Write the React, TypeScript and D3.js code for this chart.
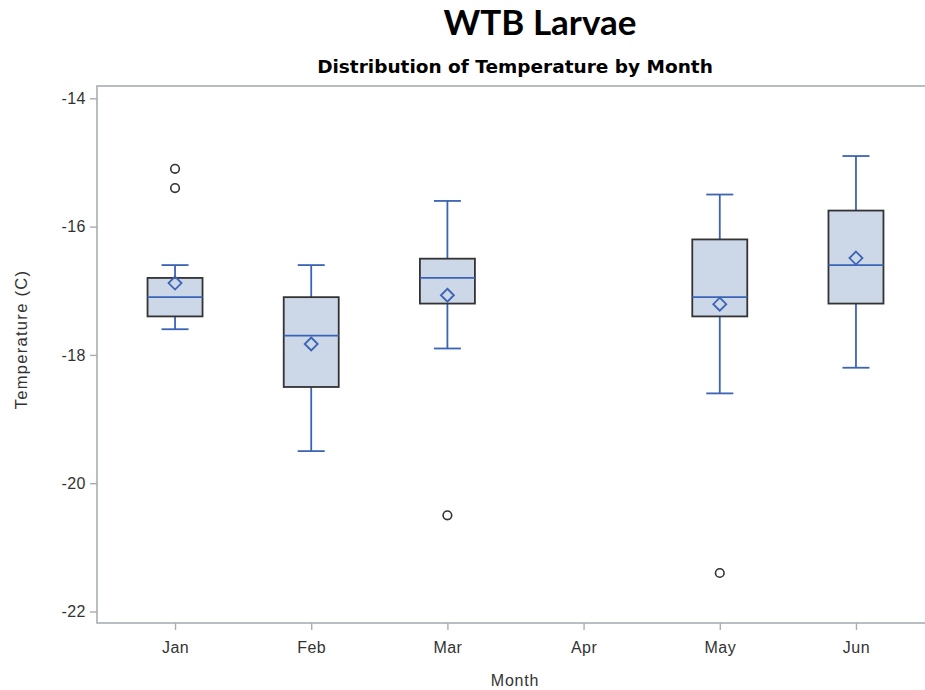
import React, { useEffect, useRef } from "react";
import * as d3 from "d3";

// values (Temperature, C)
const months = ["Jan", "Feb", "Mar", "Apr", "May", "Jun"];
const whiskerHigh = [-16.6, -16.6, -15.6, NaN, -15.5, -14.9];
const q3 = [-16.8, -17.1, -16.5, NaN, -16.2, -15.75];
const median = [-17.1, -17.7, -16.8, NaN, -17.1, -16.6];
const q1 = [-17.4, -18.5, -17.2, NaN, -17.4, -17.2];
const whiskerLow = [-17.6, -19.5, -17.9, NaN, -18.6, -18.2];
const means = [-16.88, -17.83, -17.07, NaN, -17.21, -16.49];
const outliers: [string, number][] = [
  ["Jan", -15.1],
  ["Jan", -15.4],
  ["Mar", -20.5],
  ["May", -21.4],
];
const yTicks = [-14, -16, -18, -20, -22];

const W = 925;
const H = 690;

const App = () => {
  const ref = useRef<SVGSVGElement>(null);

  useEffect(() => {
    document.body.style.margin = "0";
    document.documentElement.style.overflow = "hidden";

    const svg = d3.select(ref.current);
    svg.selectAll("*").remove();

    const left = 97;
    const top = 86;
    const bottom = 623;
    const right = 934;

    const x = d3.scalePoint<string>().domain(months).range([left, right]).padding(0.573);
    const y = d3.scaleLinear().domain([-22, -14]).range([611.5, 98.3]);

    const font = "'Liberation Sans', Arial, sans-serif";
    const axisGrey = "#a9adb2";
    const blue = "#3b63b6";

    // titles
    svg
      .append("text")
      .attr("x", 540)
      .attr("y", 35)
      .attr("text-anchor", "middle")
      .style("font-family", "Lato, 'Open Sans', sans-serif")
      .style("font-weight", "bold")
      .style("font-size", "35px")
      .style("fill", "#000")
      .text("WTB Larvae");

    svg
      .append("text")
      .attr("x", 515)
      .attr("y", 73)
      .attr("text-anchor", "middle")
      .style("font-family", "'DejaVu Sans', Verdana, sans-serif")
      .style("font-weight", "bold")
      .style("font-size", "18.5px")
      .style("fill", "#000")
      .text("Distribution of Temperature by Month");

    // frame
    svg
      .append("rect")
      .attr("x", left)
      .attr("y", top)
      .attr("width", right - left)
      .attr("height", bottom - top)
      .attr("fill", "none")
      .attr("stroke", axisGrey)
      .attr("stroke-width", 1.6);

    // y axis
    const yAxis = svg
      .append("g")
      .attr("transform", `translate(${left},0)`)
      .call(
        d3
          .axisLeft(y)
          .tickValues(yTicks)
          .tickSize(7)
          .tickSizeOuter(0)
          .tickFormat((d) => String(d))
      );
    yAxis.select(".domain").remove();
    yAxis.selectAll("line").attr("stroke", axisGrey).attr("stroke-width", 1.4);
    yAxis
      .selectAll("text")
      .attr("x", -11)
      .style("font-family", font)
      .style("font-size", "16px")
      .style("letter-spacing", "0.5px")
      .style("fill", "#333");

    // x axis
    const xAxis = svg
      .append("g")
      .attr("transform", `translate(0,${bottom})`)
      .call(d3.axisBottom(x).tickSize(7).tickSizeOuter(0));
    xAxis.select(".domain").remove();
    xAxis.selectAll("line").attr("stroke", axisGrey).attr("stroke-width", 1.4);
    xAxis
      .selectAll("text")
      .attr("y", 19)
      .style("font-family", font)
      .style("font-size", "16px")
      .style("letter-spacing", "0.5px")
      .style("fill", "#333");

    // axis labels
    svg
      .append("text")
      .attr("x", 515)
      .attr("y", 686)
      .attr("text-anchor", "middle")
      .style("font-family", font)
      .style("font-size", "16px")
      .style("letter-spacing", "0.8px")
      .style("fill", "#333")
      .text("Month");

    svg
      .append("text")
      .attr("transform", `translate(27,${(top + bottom) / 2 - 15}) rotate(-90)`)
      .attr("text-anchor", "middle")
      .style("font-family", font)
      .style("font-size", "16.5px")
      .style("letter-spacing", "1.3px")
      .style("fill", "#333")
      .text("Temperature (C)");

    // boxes
    const boxW = 55;
    const capW = 27;
    const idx = d3.range(months.length).filter((i) => !isNaN(median[i]));
    const g = svg.append("g");

    idx.forEach((i) => {
      const cx = x(months[i]) as number;
      // whiskers
      g.append("line")
        .attr("x1", cx).attr("x2", cx)
        .attr("y1", y(whiskerHigh[i])).attr("y2", y(q3[i]))
        .attr("stroke", blue).attr("stroke-width", 1.8);
      g.append("line")
        .attr("x1", cx).attr("x2", cx)
        .attr("y1", y(q1[i])).attr("y2", y(whiskerLow[i]))
        .attr("stroke", blue).attr("stroke-width", 1.8);
      [whiskerHigh[i], whiskerLow[i]].forEach((v) =>
        g.append("line")
          .attr("x1", cx - capW / 2).attr("x2", cx + capW / 2)
          .attr("y1", y(v)).attr("y2", y(v))
          .attr("stroke", blue).attr("stroke-width", 1.8)
      );
      // box
      g.append("rect")
        .attr("x", cx - boxW / 2)
        .attr("y", y(q3[i]))
        .attr("width", boxW)
        .attr("height", y(q1[i]) - y(q3[i]))
        .attr("fill", "#ccd7e7")
        .attr("stroke", "#333")
        .attr("stroke-width", 1.8);
      // median
      g.append("line")
        .attr("x1", cx - boxW / 2).attr("x2", cx + boxW / 2)
        .attr("y1", y(median[i])).attr("y2", y(median[i]))
        .attr("stroke", blue).attr("stroke-width", 1.8);
      // mean diamond
      const my = y(means[i]);
      const r = 6.5;
      g.append("path")
        .attr("d", `M${cx},${my - r}L${cx + r},${my}L${cx},${my + r}L${cx - r},${my}Z`)
        .attr("fill", "none")
        .attr("stroke", blue)
        .attr("stroke-width", 1.8);
    });

    // outliers
    g.selectAll("circle.out")
      .data(outliers)
      .join("circle")
      .attr("class", "out")
      .attr("cx", (d) => x(d[0]) as number)
      .attr("cy", (d) => y(d[1]))
      .attr("r", 4.3)
      .attr("fill", "none")
      .attr("stroke", "#333")
      .attr("stroke-width", 1.6);
  }, []);

  return (
    <div style={{ width: W, height: H, overflow: "hidden", background: "#fff" }}>
      <svg ref={ref} width={W} height={H} style={{ display: "block" }} />
    </div>
  );
};

export default App;
